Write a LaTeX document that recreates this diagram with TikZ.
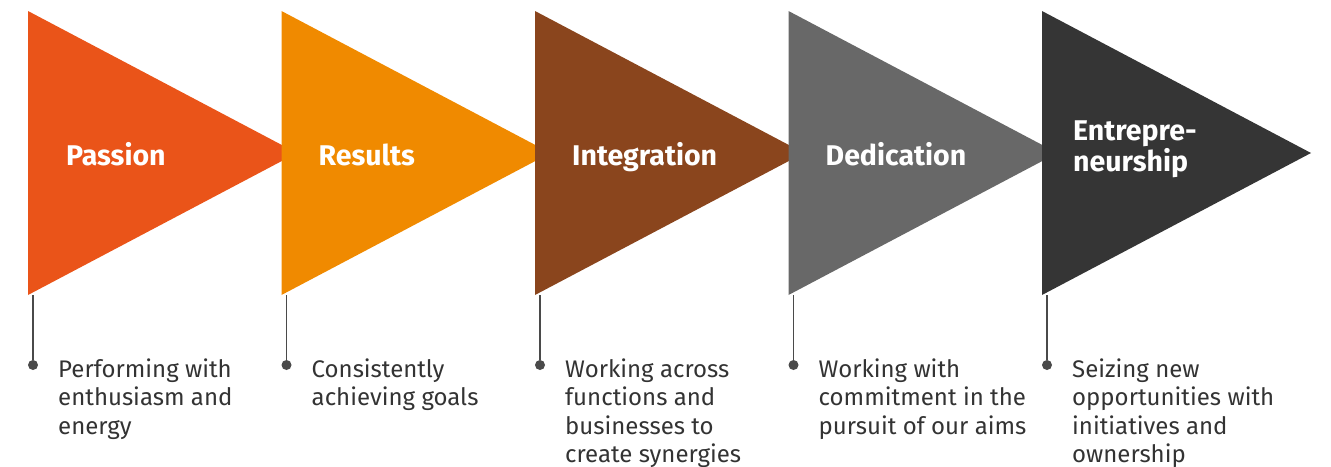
\documentclass[tikz,border=0pt]{standalone}
\usepackage{fontspec}
\setmainfont{Fira Sans}
\usetikzlibrary{positioning}

\definecolor{passioncol}{HTML}{EA5419}
\definecolor{resultscol}{HTML}{F08A00}
\definecolor{integcol}{HTML}{8A451D}
\definecolor{dedicol}{HTML}{686868}
\definecolor{entrecol}{HTML}{353535}
\definecolor{stemcol}{HTML}{4A4A4A}
\definecolor{desccol}{HTML}{333333}

\tikzset{
  title/.style={text=white, font=\fontsize{28.5}{24}\selectfont\bfseries,
    anchor=base west, align=left, inner sep=0pt},
  desc/.style={text=desccol, font=\fontsize{24}{28.5}\selectfont,
    anchor=base west, align=left, inner sep=0pt},
  bullet/.style={circle, fill=stemcol, inner sep=0pt, minimum size=10pt},
  stem/.style={draw=stemcol, line width=1.4pt}
}

\begin{document}
\begin{tikzpicture}[x=1pt, y=-1pt]
\useasboundingbox (0,0) rectangle (1331,466);

% one arrow head per value; \ty = baseline of last title line, \n = lines of text
\foreach \i/\col/\tx/\ty/\name/\n/\text in {
  0/passioncol/38/165/Passion/3/{Performing with\\enthusiasm and\\energy},
  1/resultscol/37/165/Results/2/{Consistently\\achieving goals},
  2/integcol/37/165/Integration/4/{Working across\\functions and\\businesses to\\create synergies},
  3/dedicol/37/165/Dedication/3/{Working with\\commitment in the\\pursuit of our aims},
  4/entrecol/31/171/{Entrepre-\\neurship}/4/{Seizing new\\opportunities with\\initiatives and\\ownership}}
{
  \pgfmathsetmacro\x{28+253.5*\i}
  \pgfmathsetmacro\y{377+28.5*(\n-1)}
  \fill[\col] (\x,11) -- (\x+269,153) -- (\x,295) -- cycle;
  \coordinate (corner\i) at (\x+5,295);
  \node[title] (title\i) at (\x+\tx,\ty) {\name};
  \node[bullet] (dot\i) at (\x+5,365) {};
  \draw[stem] (corner\i) -- (dot\i);
  \node[desc] (desc\i) at (\x+30,\y) {\text};
}
\end{tikzpicture}
\end{document}
